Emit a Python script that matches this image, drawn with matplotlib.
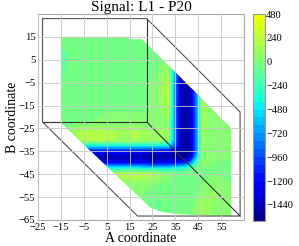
import numpy as np
import matplotlib.pyplot as plt
from matplotlib.colors import ListedColormap
from matplotlib.patches import Polygon

plt.rcParams['font.family'] = ['Liberation Serif', 'DejaVu Serif']

# grid nodes (data units)
x_nodes = [-15, -8, -2, 5, 12, 18, 23, 28, 32, 34.5, 37, 39.5, 42, 44.5, 47, 52, 60]
y_nodes = [15, 8, 0, -6, -12, -18, -23, -27, -30, -32.5, -35, -37.5, -40,
           -42.5, -45, -49, -54, -59, -64]

# signal values, one row per y node (top to bottom), one column per x node
signal = [
    [-40, -80, -40, -20, 0, 0, -60, -40, 0, 0, 0, 0, 0, 0, 0, 0, 0],
    [-100, -60, -80, -40, -20, 0, -60, -40, 0, 0, 0, 0, 0, 0, 0, 0, 0],
    [-100, -40, -20, -60, -20, 0, -40, 0, 120, -600, -1250, -1400, -1300, -500, 0, 0, 0],
    [-60, -20, 0, -40, 0, 0, 0, 60, 220, -700, -1350, -1500, -1400, -750, 100, 0, 0],
    [-40, 0, 0, -20, 0, 0, 0, 80, 220, -700, -1400, -1520, -1400, -750, 160, 0, 0],
    [0, -40, -60, 0, 0, 0, -20, 60, 120, -700, -1400, -1520, -1400, -750, 120, 20, 0],
    [0, 0, 0, 20, 40, 60, 40, 60, 60, -700, -1400, -1520, -1400, -750, 100, 20, 0],
    [0, 160, 240, 200, 140, 180, 100, 100, 100, -700, -1400, -1520, -1400, -750, 100, 20, 0],
    [0, 140, 200, 180, 140, 160, 120, 100, 80, -700, -1400, -1520, -1400, -750, 80, 20, 0],
    [-300, -400, -450, -450, -450, -450, -450, -450, -500, -850, -1400, -1520, -1400, -750, 60, 20, 0],
    [-1000, -1150, -1250, -1250, -1250, -1250, -1300, -1300, -1350, -1400, -1450, -1550, -1450, -750, 40, 20, 0],
    [-1300, -1400, -1500, -1500, -1450, -1450, -1500, -1500, -1500, -1500, -1550, -1550, -1350, -550, 40, 20, 0],
    [-1000, -1100, -1200, -1250, -1300, -1250, -1300, -1300, -1300, -1250, -1200, -1100, -800, -250, 20, 0, 0],
    [-300, -350, -400, -400, -400, -400, -450, -450, -450, -400, -350, -300, -150, -60, 0, 0, 0],
    [0, 0, 40, 80, 220, 240, 200, 140, 60, 0, -40, -40, 0, 0, 0, 0, 0],
    [0, 0, 0, 0, 40, 60, 40, 0, -40, -40, -20, 0, 0, -40, 0, 40, 0],
    [0, 0, 0, 0, 0, 40, -40, -80, -40, -60, -40, -60, -20, 0, 60, 100, 0],
    [0, 0, 0, 0, 0, 0, -60, -100, -40, -80, -60, -40, -40, 60, 150, 60, 40],
    [0, 0, 0, 0, 0, 0, -40, -60, -40, -60, -40, -40, 0, 40, 100, 40, 0],
]

# measured area (outline of the coloured field)
region_x = [-15, 15, 15, 20.5, 59.5, 59.5, 36, 29, 24, -15]
region_y = [15, 15, 14, 14, -25, -63.5, -62.5, -61.5, -59.5, -22.5]

# specimen box outline
outer_x = [-23, 22.5, 63.3, 63.3, 18.5, -23, -23]
outer_y = [23, 23, -17.8, -63.3, -63.3, -22.2, 23]
corner = (22.5, -22.2)
inner_ends_x = [-23, 22.5, 63.3]
inner_ends_y = [-22.2, 23, -63.3]

levels = np.arange(-1600, 481, 80)
cbar_ticks = np.arange(-1440, 481, 240)
xticks = np.arange(-25, 56, 10)
yticks = np.arange(-65, 16, 10)

cmap = ListedColormap(plt.cm.jet(np.linspace(0, 0.65, 256)))

fig = plt.figure(figsize=(2.99, 2.46), dpi=100)
ax = fig.add_axes([0.127, 0.106, 0.689, 0.837])

z = np.array(signal, dtype=float)[::-1]
cs = ax.contourf(x_nodes, y_nodes[::-1], z, levels=levels, cmap=cmap)
clip = Polygon(np.column_stack([region_x, region_y]), closed=True,
               transform=ax.transData, facecolor='none', edgecolor='none')
ax.add_patch(clip)
cs.set_clip_path(clip)

ax.plot(outer_x, outer_y, color='#505050', lw=0.8)
for ex, ey in zip(inner_ends_x, inner_ends_y):
    ax.plot([corner[0], ex], [corner[1], ey], color='#303030', lw=0.8)

ax.set_xlim(-25, 65)
ax.set_ylim(-65, 25)
ax.set_xticks(xticks)
ax.set_yticks(yticks)
ax.grid(True, color='#c8c8c8', lw=0.6)
ax.set_axisbelow(False)
ax.tick_params(length=0, labelsize=7.6, pad=2)
for s in ax.spines.values():
    s.set_color('#aaaaaa')
ax.set_xlabel('A coordinate', fontsize=10, labelpad=0)
ax.set_ylabel('B coordinate', fontsize=10, labelpad=0)
ax.set_title('Signal: L1 - P20', fontsize=11, pad=2)

cax = fig.add_axes([0.846, 0.102, 0.040, 0.841])
cb = fig.colorbar(cs, cax=cax, ticks=cbar_ticks)
cb.outline.set_edgecolor('#999999')
cb.ax.tick_params(length=0, labelsize=7.6, pad=1)

fig.savefig('out.png', dpi=100)
